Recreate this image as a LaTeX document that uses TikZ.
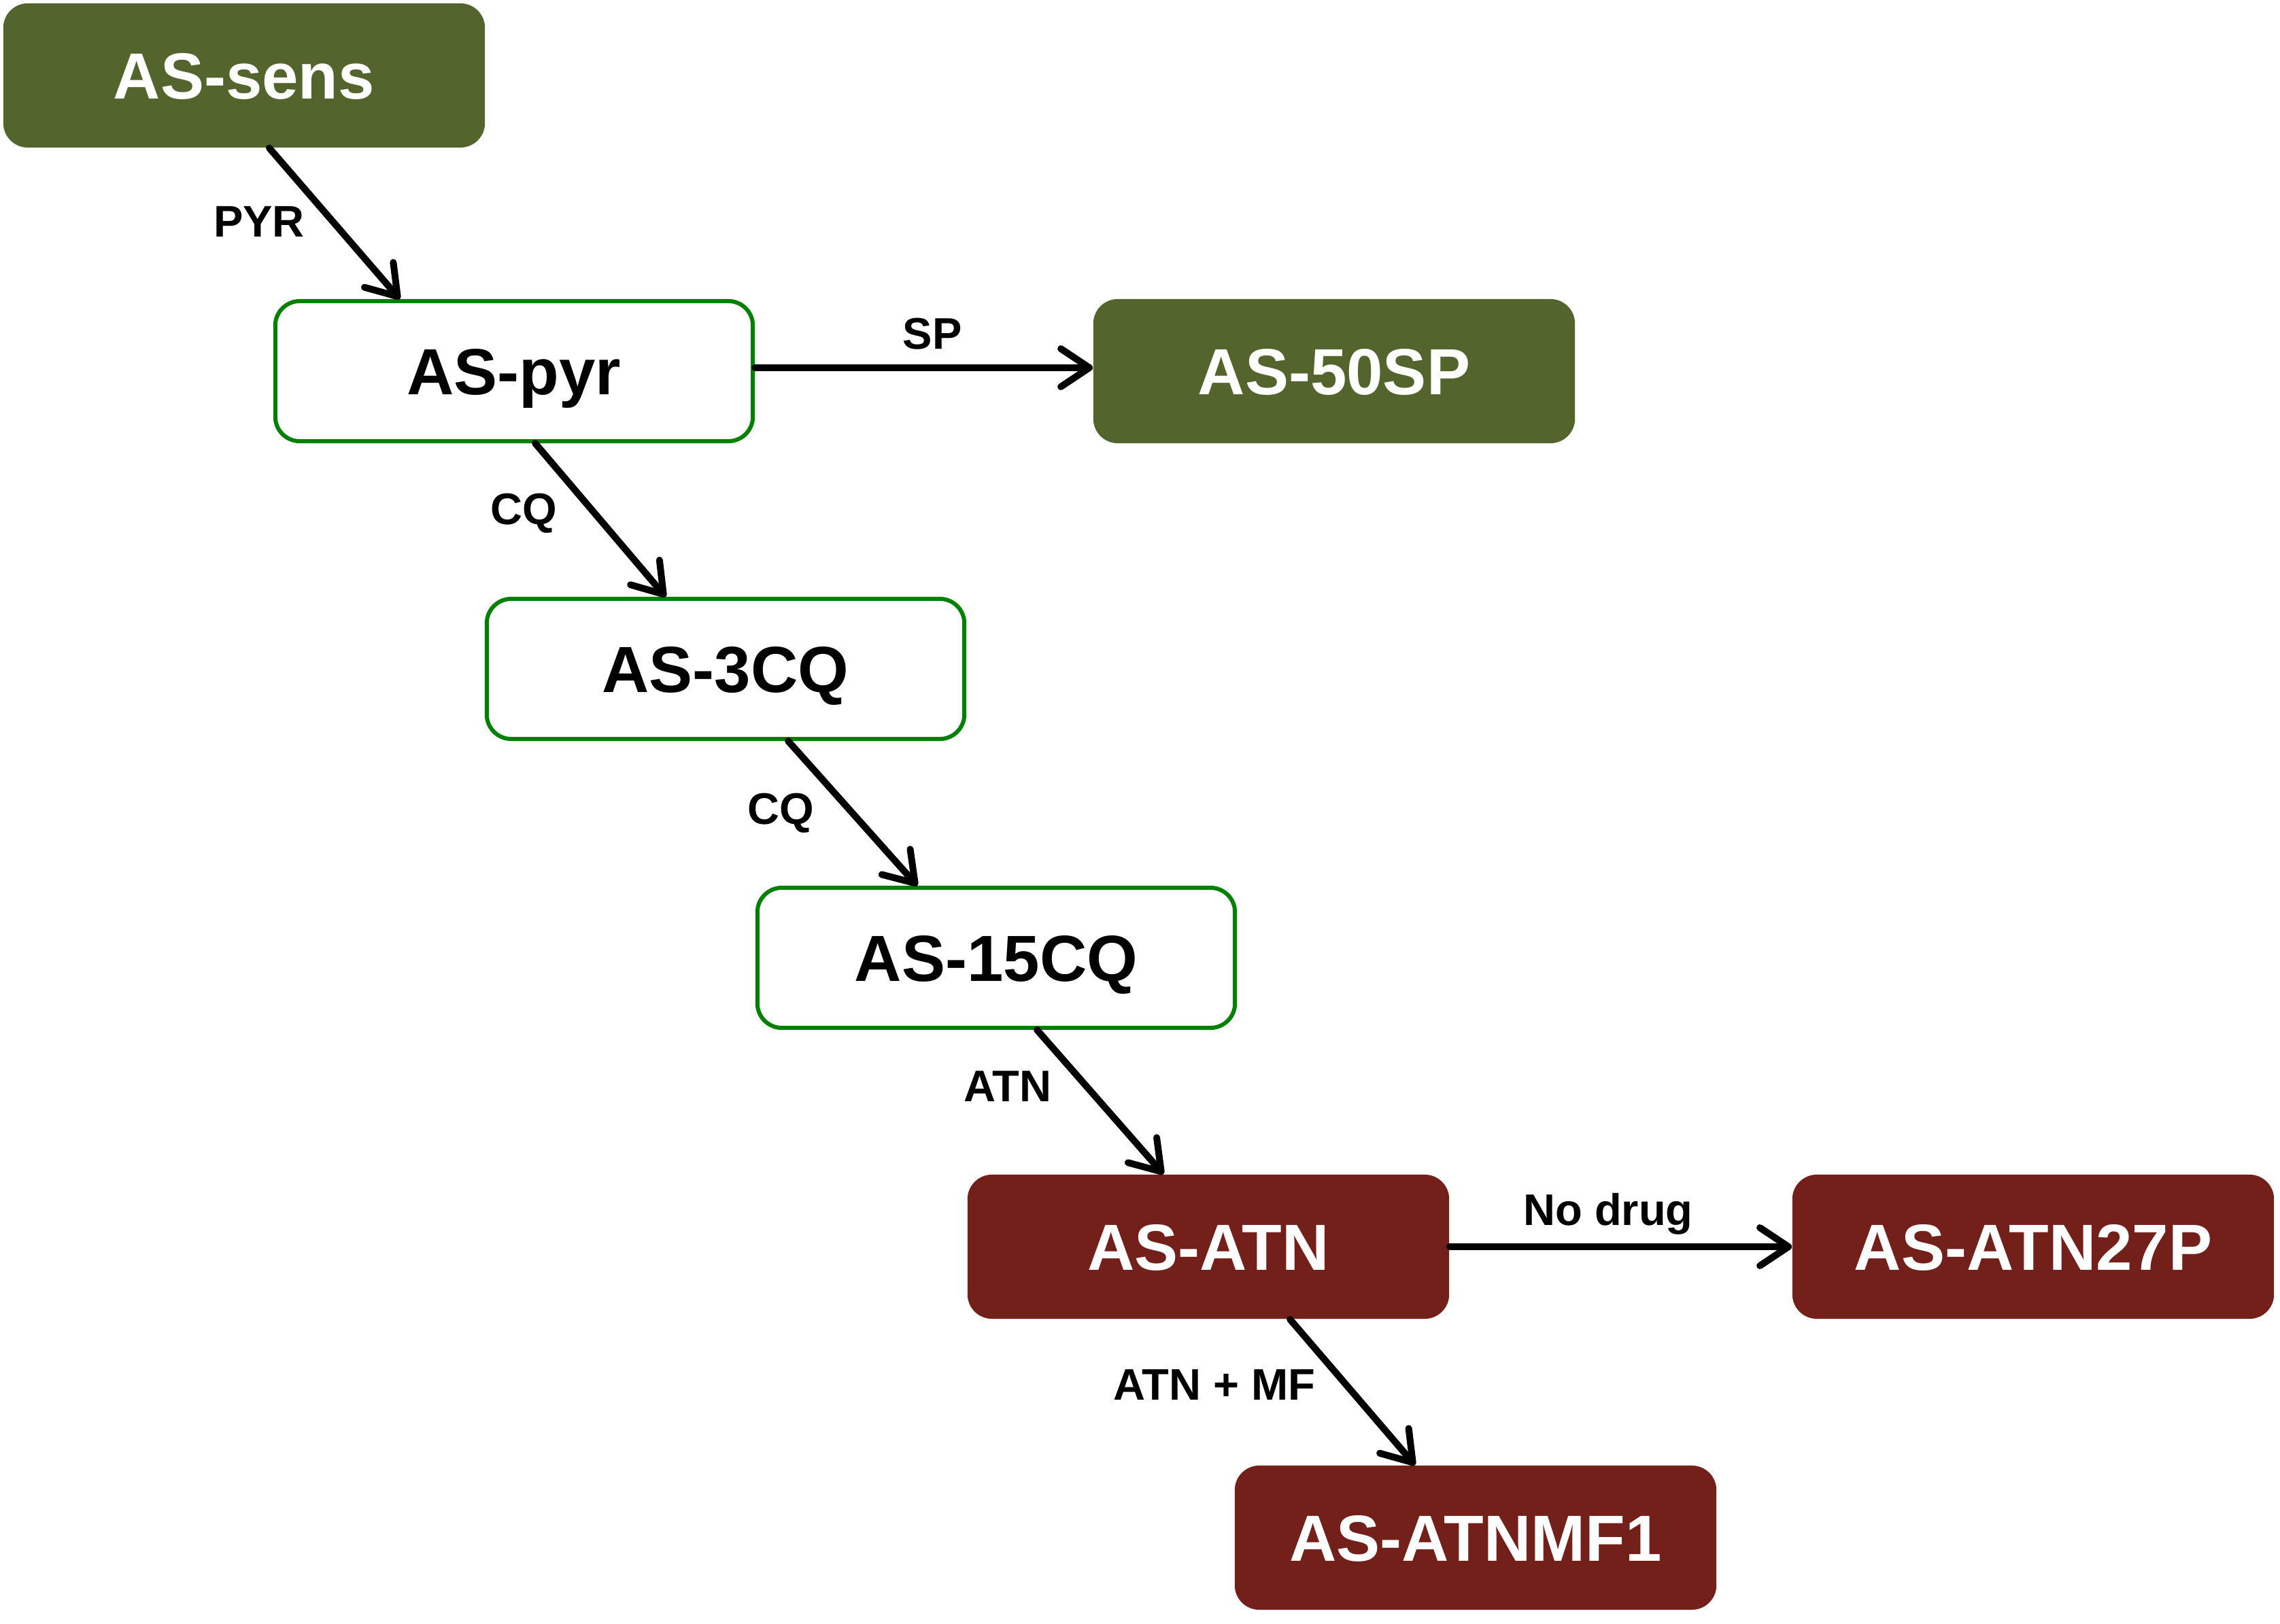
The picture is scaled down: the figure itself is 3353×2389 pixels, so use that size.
\documentclass[tikz,border=0pt]{standalone}
\usepackage{fontspec}
\setmainfont{Liberation Sans}
\usetikzlibrary{arrows.meta}
\definecolor{boxolive}{HTML}{53652C}
\definecolor{boxred}{HTML}{731F1A}
\definecolor{boxgreen}{HTML}{008000}
\begin{document}
\begin{tikzpicture}[x=0.01cm,y=-0.01cm,
 box/.style={rectangle, rounded corners=0.36cm, minimum width=7.08cm, minimum height=2.12cm, inner sep=0pt, text height=0.69cm, text depth=0pt, font=\fontsize{27.3pt}{32pt}\selectfont\bfseries},
 fillgreen/.style={box, fill=boxolive, text=white},
 outline/.style={box, draw=boxgreen, line width=0.06cm, fill=white, text=black, minimum width=7.02cm, minimum height=2.06cm},
 fillred/.style={box, fill=boxred, text=white},
 arr/.style={line width=0.1cm, line cap=round, -{Straight Barb[length=0.42cm, width=0.56cm, round]}},
 lab/.style={font=\fontsize{18.5pt}{22pt}\selectfont\bfseries, inner sep=0pt, text height=0.465cm, text depth=0pt}]
\useasboundingbox (0,0) rectangle (3353,2389);
\node[fillgreen] (sens) at (359,111) {AS-sens};
\node[outline] (pyr) at (756,546) {AS-pyr};
\node[fillgreen] (sp) at (1962,546) {AS-50SP};
\node[outline] (cq3) at (1067,984) {AS-3CQ};
\node[outline] (cq15) at (1465,1409) {AS-15CQ};
\node[fillred] (atn) at (1777,1834) {AS-ATN};
\node[fillred] (atn27) at (2990,1834) {AS-ATN27P};
\node[fillred] (mf1) at (2170,2262) {AS-ATNMF1};

\draw[arr] ([xshift=0.37cm]sens.south) -- ([xshift=-1.68cm]pyr.north);
\draw[arr] ([yshift=0.05cm]pyr.east) -- ([yshift=0.05cm]sp.west);
\draw[arr] ([xshift=0.31cm]pyr.south) -- ([xshift=-0.88cm]cq3.north);
\draw[arr] ([xshift=0.92cm]cq3.south) -- ([xshift=-1.16cm]cq15.north);
\draw[arr] ([xshift=0.60cm]cq15.south) -- ([xshift=-0.66cm]atn.north);
\draw[arr] (atn.east) -- (atn27.west);
\draw[arr] ([xshift=1.20cm]atn.south) -- ([xshift=-0.89cm]mf1.north);

\node[lab] (lpyr) at (381,325) {PYR};
\node[lab] (lsp) at (1371,490) {SP};
\node[lab] (lcq1) at (770,748) {CQ};
\node[lab] (lcq2) at (1148,1189) {CQ};
\node[lab] (latn) at (1482,1597) {ATN};
\node[lab] (lnod) at (2365,1779) {No drug};
\node[lab] (lmf) at (1786,2036) {ATN + MF};
\end{tikzpicture}
\end{document}
